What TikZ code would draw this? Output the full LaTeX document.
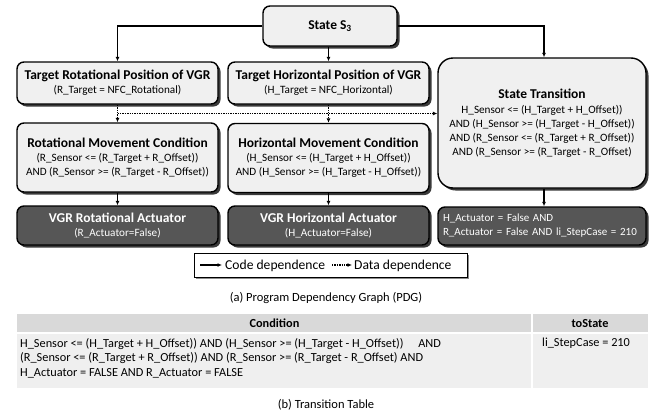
\documentclass[tikz,border=0pt]{standalone}
\usepackage{fontspec}
\setmainfont{Carlito}
\usetikzlibrary{arrows.meta,shadows,calc}

\definecolor{boxfill}{HTML}{F0F0F0}
\definecolor{actfill}{HTML}{565656}
\definecolor{shade}{HTML}{3A3A3A}
\definecolor{headfill}{HTML}{D9D9D9}
\definecolor{bodyfill}{HTML}{EFEFEF}

\tikzset{
  basebox/.style={draw=black, line width=1.4pt, rounded corners=7pt,
    inner sep=3pt, align=center,
    drop shadow={shadow xshift=2.5pt, shadow yshift=-2.5pt, fill=shade, opacity=1},
    font=\fontsize{11.2}{14}\selectfont},
  lightbox/.style={basebox, fill=boxfill},
  darkbox/.style={basebox, fill=actfill, text=white},
  codedep/.style={line width=1.4pt, -{Latex[length=4.5pt,width=4pt]}},
  datadep/.style={line width=1.4pt, densely dotted, -{Latex[length=4.5pt,width=4pt]}},
  caption/.style={font=\fontsize{12.5}{15}\selectfont},
  cell/.style={font=\fontsize{12.3}{14.5}\selectfont},
}
\newcommand{\ttl}[1]{{\fontsize{13.5}{15}\selectfont\bfseries #1}}

\begin{document}
\begin{tikzpicture}[x=1pt,y=-1pt]
\useasboundingbox (0,0) rectangle (652,415);

% --- program dependency graph ---
\node[lightbox, minimum width=134pt, minimum height=40pt] (state) at (330,26)
  {\ttl{State S\textsubscript{3}}};

\node[lightbox, minimum width=201pt, minimum height=42pt] (trot) at (117.5,83)
  {\ttl{Target Rotational Position of VGR}\\(R\_Target = NFC\_Rotational)};
\node[lightbox, minimum width=201pt, minimum height=42pt] (thor) at (328.5,83)
  {\ttl{Target Horizontal Position of VGR}\\(H\_Target = NFC\_Horizontal)};

\node[lightbox, rounded corners=15pt, minimum width=208pt, minimum height=130pt] (strans) at (542,123)
  {\ttl{State Transition}\\[1pt]
   H\_Sensor <= (H\_Target + H\_Offset))\\
   AND (H\_Sensor >= (H\_Target - H\_Offset))\\
   AND (R\_Sensor <= (R\_Target + R\_Offset))\\
   AND (R\_Sensor >= (R\_Target - R\_Offset)};

\node[lightbox, minimum width=201pt, minimum height=69pt] (rmov) at (117.5,157.5)
  {\ttl{Rotational Movement Condition}\\
   (R\_Sensor <= (R\_Target + R\_Offset))\\
   AND (R\_Sensor >= (R\_Target - R\_Offset))};
\node[lightbox, minimum width=201pt, minimum height=69pt] (hmov) at (328.5,158)
  {\ttl{Horizontal Movement Condition}\\
   (H\_Sensor <= (H\_Target + H\_Offset))\\
   AND (H\_Sensor >= (H\_Target - H\_Offset))};

\node[darkbox, minimum width=201pt, minimum height=39pt] (ract) at (117.5,225.5)
  {\ttl{VGR Rotational Actuator}\\(R\_Actuator=False)};
\node[darkbox, minimum width=201pt, minimum height=39pt] (hact) at (328.5,225.5)
  {\ttl{VGR Horizontal Actuator}\\(H\_Actuator=False)};
\node[darkbox, minimum width=208pt, minimum height=38pt, inner xsep=5pt,
      text width=198pt, align=left, font=\fontsize{11}{14}\selectfont] (sact) at (542,226)
  {H\_Actuator = False AND\\R\_Actuator = False AND li\_StepCase = 210};

% code dependences
\draw[codedep] (state.west) -| (trot.north);
\draw[codedep] (thor.north |- state.south) -- (thor.north);
\draw[codedep] (state.east) -| ([xshift=2pt]strans.north);
\draw[codedep] (rmov.south) -- (ract.north);
\draw[codedep] (hmov.south) -- (hact.north);
\draw[codedep] ([xshift=2pt]strans.south) -- ([xshift=2pt]sact.north);

% data dependences
\coordinate (dj) at ($(trot.south)!0.5!(rmov.north)$);
\draw[datadep] (trot.south) -- (rmov.north);
\draw[datadep] (thor.south) -- (hmov.north);
\draw[datadep] (dj) -- (dj -| strans.west);

% legend
\node[draw=black, line width=0.9pt, fill=white, minimum width=273pt, minimum height=24pt,
      drop shadow={shadow xshift=2pt, shadow yshift=-2pt, fill=black!45, opacity=1}]
      (legend) at (330.5,265) {};
\coordinate (lca) at (200,265);
\coordinate (lcb) at (222,265);
\coordinate (lda) at (332,265);
\coordinate (ldb) at (352,265);
\draw[codedep] (lca) -- (lcb);
\node[anchor=west, inner sep=0pt, font=\fontsize{13.6}{15}\selectfont] (legc) at (225,265.5) {Code dependence};
\draw[datadep] (lda) -- (ldb);
\node[anchor=west, inner sep=0pt, font=\fontsize{13.6}{15}\selectfont] (legd) at (354,265.5) {Data dependence};

\node[caption] (capa) at (326,298) {(a) Program Dependency Graph (PDG)};

% --- transition table ---
\fill[headfill] (17,314) rectangle (648,333);
\fill[bodyfill] (17,333) rectangle (648,388);
\draw[white, line width=2pt] (17,333) -- (648,333);
\draw[white, line width=2pt] (532,314) -- (532,388);

\node[cell, font=\fontsize{12.3}{14.5}\selectfont\bfseries] (hcond) at (274.5,323.5) {Condition};
\node[cell, font=\fontsize{12.3}{14.5}\selectfont\bfseries] (hto) at (590,323.5) {toState};

\node[cell, anchor=north west, inner sep=0pt, align=left] (cond) at (20,338)
  {H\_Sensor <= (H\_Target + H\_Offset)) AND (H\_Sensor >= (H\_Target - H\_Offset))\hspace{1.2em}AND\\
   (R\_Sensor <= (R\_Target + R\_Offset)) AND (R\_Sensor >= (R\_Target - R\_Offset) AND\\
   H\_Actuator = FALSE AND R\_Actuator = FALSE};
\node[cell, anchor=north west, inner sep=0pt] (tost) at (542,338) {li\_StepCase = 210};

\node[caption] (capb) at (326,405) {(b) Transition Table};
\end{tikzpicture}
\end{document}
